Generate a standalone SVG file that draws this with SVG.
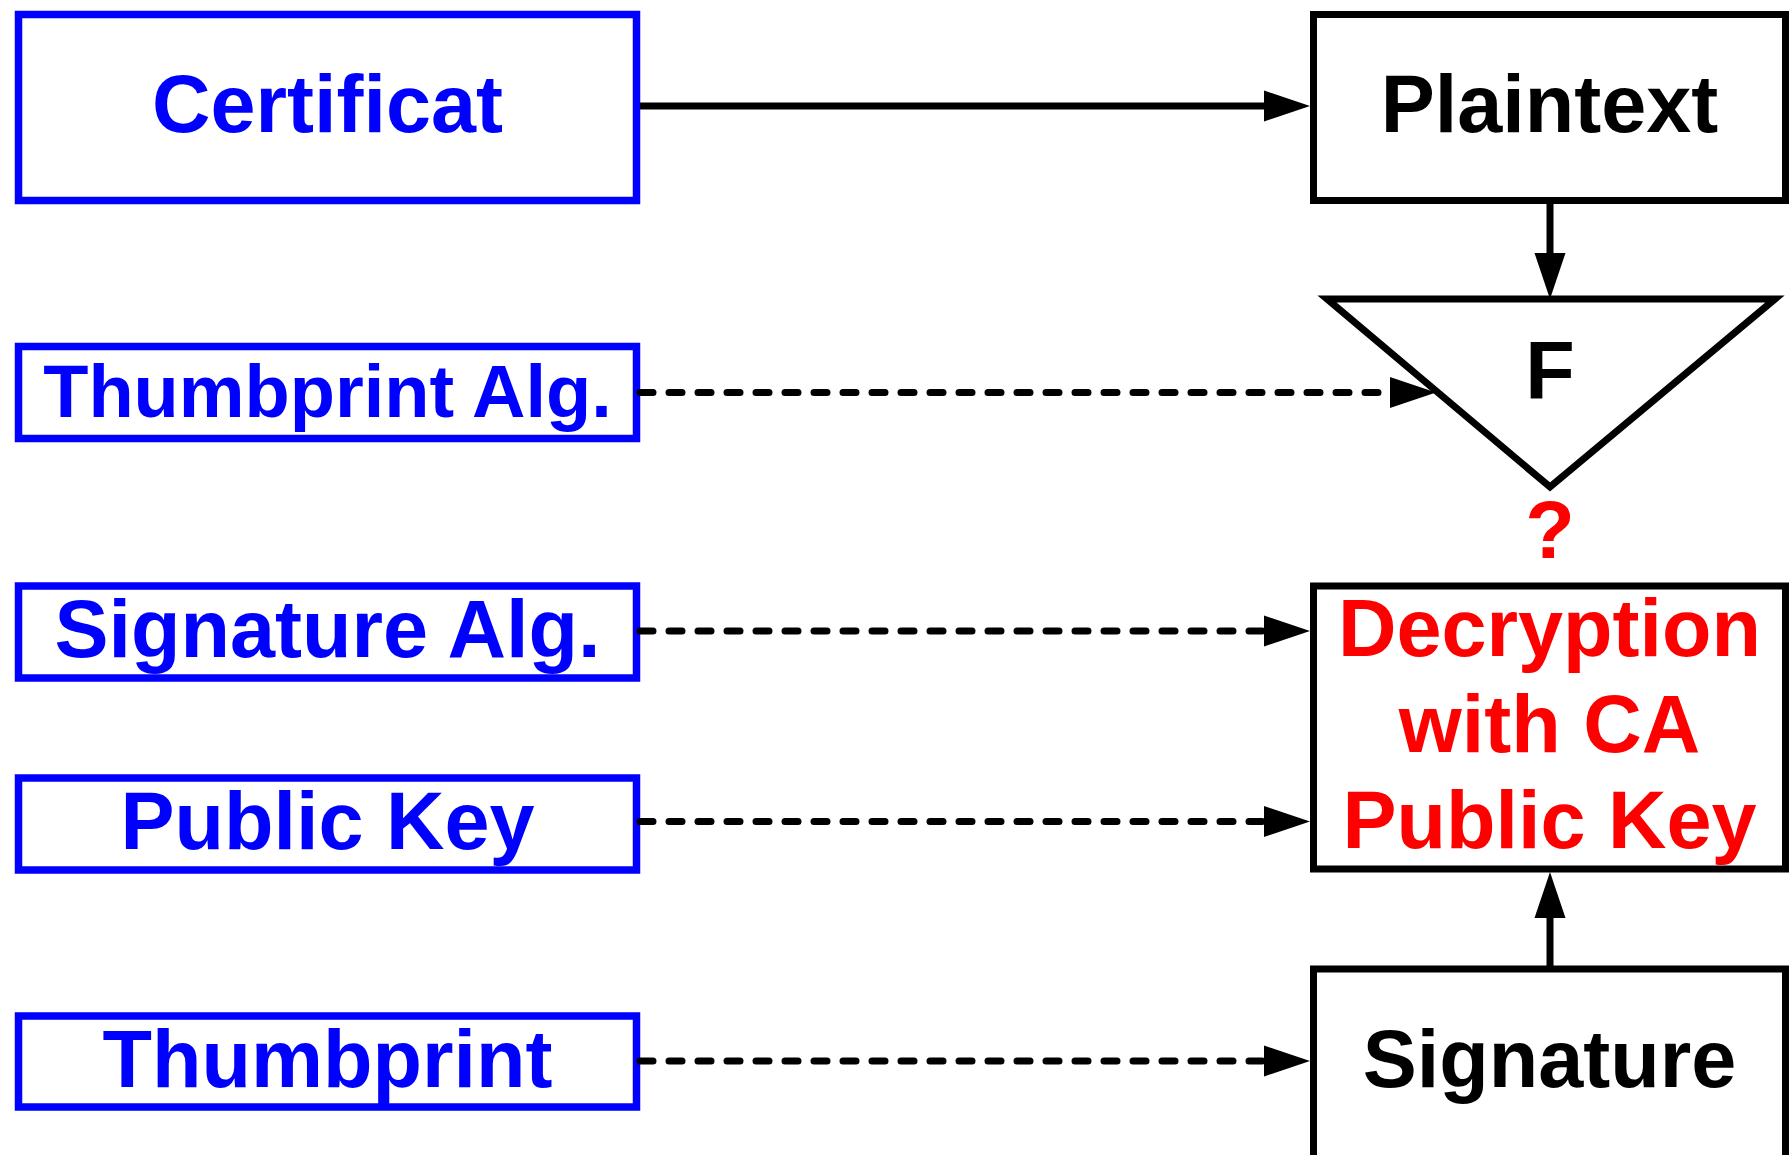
<svg xmlns="http://www.w3.org/2000/svg" width="1789" height="1155" viewBox="0 0 1789 1155">
  <defs>
    <marker id="arrow" markerUnits="userSpaceOnUse" markerWidth="46" markerHeight="31" refX="5" refY="15.5" orient="auto" overflow="visible">
      <path d="M0,0 L46,15.5 L0,31 z" fill="#000"/>
    </marker>
    <style>
      .field rect { fill: #fff; stroke: #0000ff; stroke-width: 7.5; }
      .step rect, .step polygon { fill: #fff; stroke: #000; stroke-width: 7; }
      text { font-family: "Liberation Sans", Arial, Helvetica, sans-serif; font-weight: bold; font-size: 81px; text-anchor: middle; }
      .blue { fill: #0000ff; }
      .black { fill: #000; }
      .red { fill: #ff0000; }
      .link { fill: none; stroke: #000; stroke-width: 7; marker-end: url(#arrow); }
      .dash { stroke-dasharray: 13 16; stroke-linecap: round; }
    </style>
  </defs>

  <!-- certificate fields -->
  <g id="certificat" class="field">
    <rect x="18.5" y="14.5" width="618" height="186"/>
    <text class="blue" x="327.5" y="132">Certificat</text>
  </g>
  <g id="thumbprint-alg" class="field">
    <rect x="18.5" y="346.5" width="618" height="92"/>
    <text class="blue" x="327.5" y="417" style="font-size:74px">Thumbprint Alg.</text>
  </g>
  <g id="signature-alg" class="field">
    <rect x="18.5" y="586" width="618" height="92"/>
    <text class="blue" x="327.5" y="657">Signature Alg.</text>
  </g>
  <g id="public-key" class="field">
    <rect x="18.5" y="778" width="618" height="92"/>
    <text class="blue" x="327.5" y="849">Public Key</text>
  </g>
  <g id="thumbprint" class="field">
    <rect x="18.5" y="1016" width="618" height="91"/>
    <text class="blue" x="327.5" y="1087">Thumbprint</text>
  </g>

  <!-- verification steps -->
  <g id="plaintext" class="step">
    <rect x="1313.5" y="14.5" width="472" height="186"/>
    <text class="black" x="1549.5" y="132">Plaintext</text>
  </g>
  <g id="function-f" class="step">
    <polygon points="1327,299 1775,299 1550,487"/>
    <text class="black" x="1550" y="399">F</text>
  </g>
  <g id="question">
    <text class="red" x="1550" y="558">?</text>
  </g>
  <g id="decryption" class="step">
    <rect x="1313.5" y="586" width="472" height="283"/>
    <text class="red" x="1549.5" y="656">Decryption</text>
    <text class="red" x="1549.5" y="752">with CA</text>
    <text class="red" x="1549.5" y="848">Public Key</text>
  </g>
  <g id="signature" class="step">
    <rect x="1313.5" y="969" width="472" height="200"/>
    <text class="black" x="1549.5" y="1087">Signature</text>
  </g>

  <!-- connectors -->
  <g id="connectors">
    <line class="link" x1="640" y1="106" x2="1269" y2="106"/>
    <line class="link" x1="1550" y1="203" x2="1550" y2="258"/>
    <line class="link dash" x1="640" y1="392.5" x2="1395" y2="392.5"/>
    <line class="link dash" x1="640" y1="631" x2="1269" y2="631"/>
    <line class="link dash" x1="640" y1="821.5" x2="1269" y2="821.5"/>
    <line class="link dash" x1="640" y1="1061" x2="1269" y2="1061"/>
    <line class="link" x1="1550" y1="966" x2="1550" y2="913"/>
  </g>
</svg>
